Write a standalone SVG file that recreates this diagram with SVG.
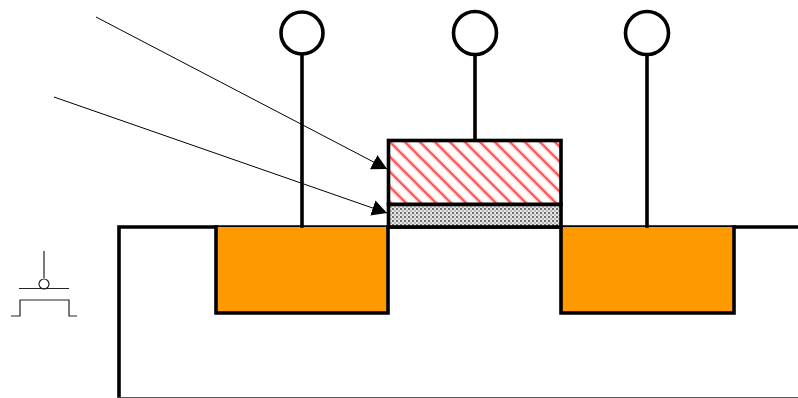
<svg xmlns="http://www.w3.org/2000/svg" width="798" height="398" viewBox="0 0 798 398">
<style>
.t{fill:none;stroke:#000;stroke-width:3.6;stroke-linecap:square}
.w{fill:#fff;stroke:#000;stroke-width:3.6}
.o{fill:#ff9900;stroke:#000;stroke-width:3.6;stroke-linecap:square}
.n{fill:none;stroke:#000;stroke-width:1}
.s{fill:none;stroke:#222;stroke-width:1.2}
</style>
<defs>
<pattern id="hatch" patternUnits="userSpaceOnUse" width="15" height="15" x="388" y="140">
<rect width="15" height="15" fill="#fff"/>
<path d="M-5,-5L20,20M-5,10L5,20M10,-5L20,5" stroke="#ffd0d0" stroke-width="4.6" fill="none"/>
<path d="M-5,-5L20,20M-5,10L5,20M10,-5L20,5" stroke="#ff4a4a" stroke-width="1.8" fill="none"/>
</pattern>
<pattern id="dots" patternUnits="userSpaceOnUse" width="4" height="4" x="388" y="204">
<rect width="4" height="4" fill="#e8e8e8"/>
<circle cx="1" cy="1" r="1" fill="#444"/>
<circle cx="3" cy="3" r="0.8" fill="#777"/>
</pattern>
<marker id="ah" markerUnits="userSpaceOnUse" markerWidth="17" markerHeight="18" refX="15" refY="9" orient="auto">
<path d="M0,1L15,9L0,17Z" fill="#000"/>
</marker>
</defs>
<g id="substrate"><path class="t" d="M798,227H119V396"/><path d="M119,397.500H798" stroke="#555" stroke-width="1" fill="none"/></g>
<g id="source"><path class="o" d="M216,227V313H388V227"/></g>
<g id="drain"><path class="o" d="M561,227V313H734V227"/></g>
<g id="gate"><rect x="388.500" y="140.500" width="172.500" height="64" fill="url(#hatch)" stroke="#000" stroke-width="3.6"/></g>
<g id="oxide"><rect x="388.500" y="204.500" width="172.500" height="22.500" fill="url(#dots)" stroke="#000" stroke-width="3.6"/></g>
<g id="terminal-s"><path class="t" d="M302,56V226"/><circle class="w" cx="302" cy="33" r="21"/></g>
<g id="terminal-g"><path class="t" d="M475,56V139"/><circle class="w" cx="475" cy="33" r="21.500"/></g>
<g id="terminal-d"><path class="t" d="M647,56V226"/><circle class="w" cx="647" cy="33" r="21.500"/></g>
<g id="symbol">
<path class="s" d="M44,251V278"/><circle class="s" cx="44" cy="284" r="5"/><path class="s" d="M19,288.500H69"/><path class="s" d="M11,316H20V300H69V316H77"/>
</g>
<g id="connectors">
<path class="n" d="M96,17L387,169" marker-end="url(#ah)"/>
<path class="n" d="M54,97L387,213" marker-end="url(#ah)"/>
</g>
</svg>
